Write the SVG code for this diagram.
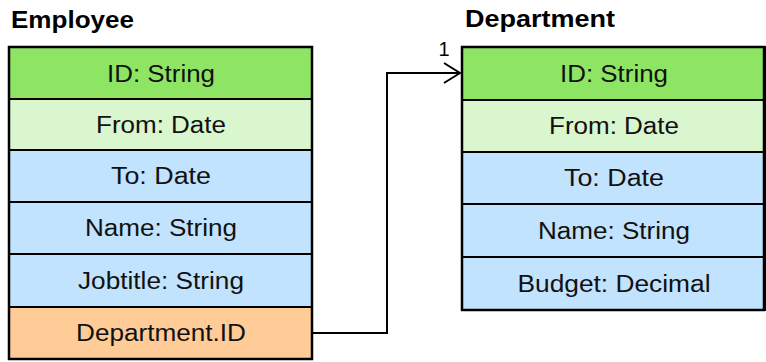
<svg xmlns="http://www.w3.org/2000/svg" width="766" height="362" viewBox="0 0 766 362">
  <style>
    .title { font-family: "Liberation Sans", Arial, sans-serif; font-weight: bold; font-size: 23px; fill: #000; }
    .field { font-family: "Liberation Sans", Arial, sans-serif; font-size: 23px; fill: #111; text-anchor: middle; }
    .row { stroke: #000; stroke-width: 2; }
    .outer { fill: none; stroke: #000; stroke-width: 2.5; }
    .pk { fill: #8ee564; }
    .dt { fill: #d9f6ce; }
    .at { fill: #c2e3fd; }
    .fk { fill: #ffcb97; }
    .conn { fill: none; stroke: #000; stroke-width: 2; }
    .mult { font-family: "Liberation Sans", Arial, sans-serif; font-size: 20px; fill: #000; text-anchor: middle; }
  </style>
  <defs>
    <marker id="open" viewBox="0 0 18 22" refX="17" refY="11" markerWidth="18" markerHeight="22" markerUnits="userSpaceOnUse" orient="auto">
      <path d="M1,1 L17,11 L1,21" fill="none" stroke="#000" stroke-width="2"/>
    </marker>
  </defs>
  <rect width="766" height="362" fill="#fff"/>

  <g id="employee">
    <text class="title" x="11" y="28" textLength="123" lengthAdjust="spacingAndGlyphs">Employee</text>
    <rect class="row pk" x="9" y="47" width="303" height="52"/>
    <rect class="row dt" x="9" y="99" width="303" height="51"/>
    <rect class="row at" x="9" y="150" width="303" height="52"/>
    <rect class="row at" x="9" y="202" width="303" height="52"/>
    <rect class="row at" x="9" y="254" width="303" height="53"/>
    <rect class="row fk" x="9" y="307" width="303" height="52"/>
    <rect class="outer" x="9" y="47" width="303" height="312"/>
    <text class="field" x="161" y="82" textLength="108" lengthAdjust="spacingAndGlyphs">ID: String</text>
    <text class="field" x="161" y="133" textLength="130" lengthAdjust="spacingAndGlyphs">From: Date</text>
    <text class="field" x="161" y="184" textLength="100" lengthAdjust="spacingAndGlyphs">To: Date</text>
    <text class="field" x="161" y="236" textLength="152" lengthAdjust="spacingAndGlyphs">Name: String</text>
    <text class="field" x="161" y="289" textLength="166" lengthAdjust="spacingAndGlyphs">Jobtitle: String</text>
    <text class="field" x="161" y="341" textLength="170" lengthAdjust="spacingAndGlyphs">Department.ID</text>
  </g>

  <g id="department">
    <text class="title" x="465" y="27" textLength="150" lengthAdjust="spacingAndGlyphs">Department</text>
    <rect class="row pk" x="462" y="47" width="303" height="53"/>
    <rect class="row dt" x="462" y="100" width="303" height="52"/>
    <rect class="row at" x="462" y="152" width="303" height="52"/>
    <rect class="row at" x="462" y="204" width="303" height="53"/>
    <rect class="row at" x="462" y="257" width="303" height="53"/>
    <rect class="outer" x="462" y="47" width="302" height="263"/>
    <text class="field" x="614" y="82" textLength="108" lengthAdjust="spacingAndGlyphs">ID: String</text>
    <text class="field" x="614" y="134" textLength="130" lengthAdjust="spacingAndGlyphs">From: Date</text>
    <text class="field" x="614" y="186" textLength="100" lengthAdjust="spacingAndGlyphs">To: Date</text>
    <text class="field" x="614" y="239" textLength="152" lengthAdjust="spacingAndGlyphs">Name: String</text>
    <text class="field" x="614" y="292" textLength="193" lengthAdjust="spacingAndGlyphs">Budget: Decimal</text>
  </g>

  <g id="connectors">
    <path class="conn" d="M312,333 H387 V73 H460" marker-end="url(#open)"/>
    <text class="mult" x="444" y="56">1</text>
  </g>
</svg>
